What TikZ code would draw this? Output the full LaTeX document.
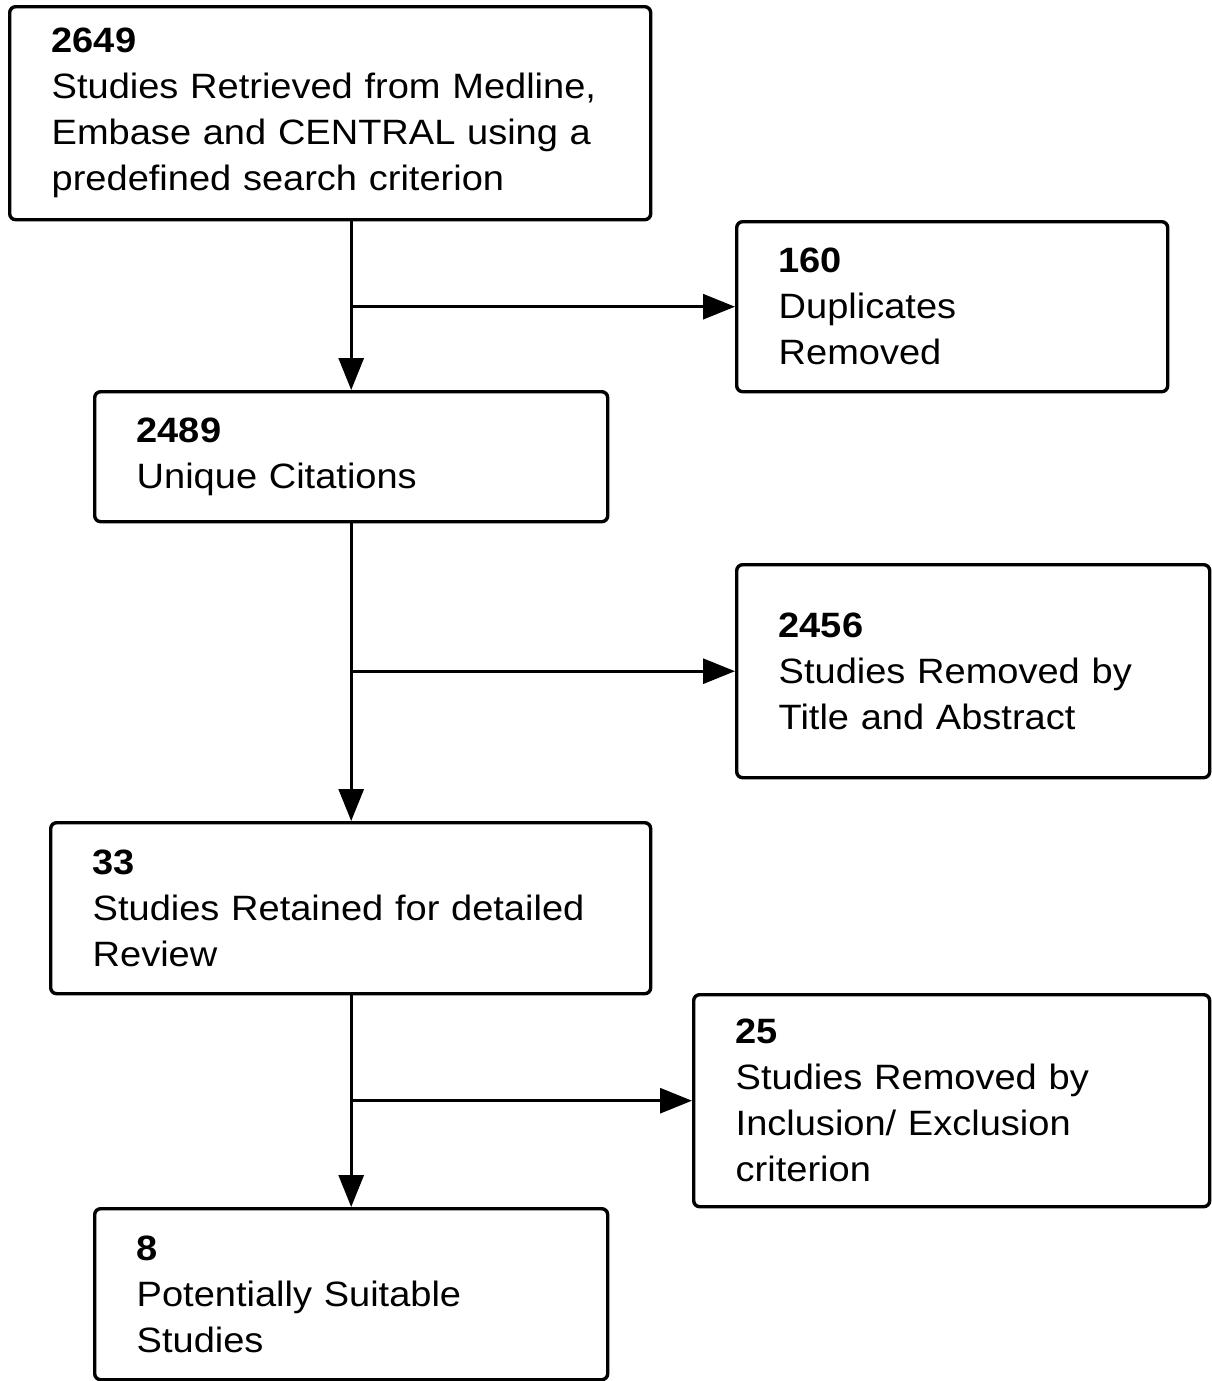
\documentclass[tikz,border=0pt]{standalone}
\usepackage{fontspec}
\setmainfont[FakeStretch=1.08]{Liberation Sans}
\usetikzlibrary{arrows.meta}

\begin{document}
\begin{tikzpicture}[x=0.5pt,y=-0.5pt,
    box/.style={draw,line width=1.7pt,rounded corners=3pt,anchor=north west,
        inner xsep=21pt,align=left,font=\fontsize{17.6}{23}\selectfont},
    arr/.style={line width=1.5pt,-{Triangle[length=16pt,width=12.5pt]}}]
    \useasboundingbox (0,0) rectangle (1211,1381);
    \node[box,minimum width=320.5pt,minimum height=106.5pt,text width=278.5pt] (retr) at (8,5)
        {\textbf{2649}\\Studies Retrieved from Medline,\\Embase and CENTRAL using a\\predefined search criterion};
    \node[box,minimum width=215.5pt,minimum height=85pt,text width=173.5pt] (dupl) at (735,220)
        {\textbf{160}\\Duplicates\\Removed};
    \node[box,minimum width=256.5pt,minimum height=65pt,text width=214.5pt] (uniq) at (93,390)
        {\textbf{2489}\\Unique Citations};
    \node[box,minimum width=236.5pt,minimum height=106.5pt,text width=194.5pt] (title) at (735,563)
        {\textbf{2456}\\Studies Removed by\\Title and Abstract};
    \node[box,minimum width=300pt,minimum height=85.5pt,text width=258pt] (kept) at (49,821)
        {\textbf{33}\\Studies Retained for detailed\\Review};
    \node[box,minimum width=258pt,minimum height=106pt,text width=216pt] (incl) at (692,993)
        {\textbf{25}\\Studies Removed by\\Inclusion/ Exclusion\\criterion};
    \node[box,minimum width=256.5pt,minimum height=85.5pt,text width=214.5pt] (suit) at (93,1207)
        {\textbf{8}\\Potentially Suitable\\Studies};
    % main flow and the branches to the removed boxes
    \draw[arr] (retr.south -| uniq.north) -- (uniq.north);
    \draw[arr] (uniq.north |- dupl.west) -- (dupl.west);
    \draw[arr] (uniq.south) -- (kept.north -| uniq.south);
    \draw[arr] (uniq.south |- title.west) -- (title.west);
    \draw[arr] (kept.south -| suit.north) -- (suit.north);
    \draw[arr] (suit.north |- incl.west) -- (incl.west);
\end{tikzpicture}
\end{document}
